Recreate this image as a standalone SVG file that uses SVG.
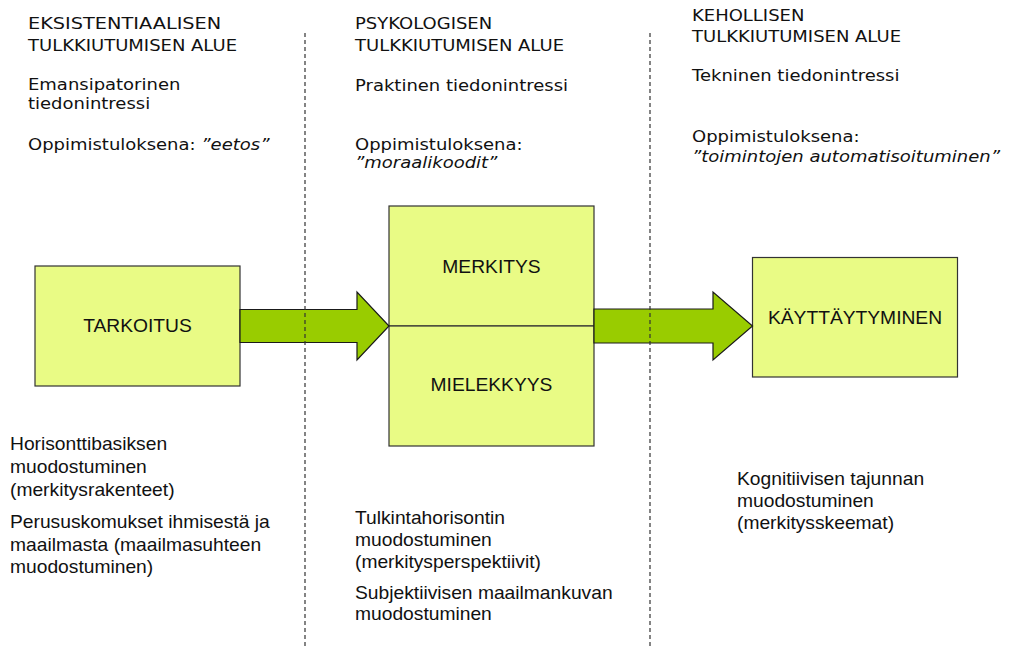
<svg xmlns="http://www.w3.org/2000/svg" width="1011" height="646" viewBox="0 0 1011 646">
  <style>
    .box { fill: #E9FB85; stroke: #333333; stroke-width: 1.2; }
    .arrow { fill: #99CC00; stroke: #1a1a1a; stroke-width: 1.2; stroke-linejoin: miter; }
    .divider { stroke: #333333; stroke-width: 1.2; stroke-dasharray: 4 3; fill: none; }
    .head { font-family: "DejaVu Sans", Verdana, sans-serif; font-size: 15px; fill: #111111; }
    .note { font-family: "Liberation Sans", Arial, sans-serif; font-size: 17.5px; fill: #111111; }
    .label { font-family: "Liberation Sans", Arial, sans-serif; font-size: 17.5px; fill: #111111; text-anchor: middle; }
    .it { font-style: italic; }
  </style>

  <!-- column headings -->
  <g id="col-eksistentiaalinen" transform="translate(28,0) scale(1.2,1)">
    <text class="head" x="0" y="29.5" textLength="161" lengthAdjust="spacingAndGlyphs">EKSISTENTIAALISEN</text>
    <text class="head" x="0" y="51">TULKKIUTUMISEN ALUE</text>
    <text class="head" x="0" y="90.5">Emansipatorinen</text>
    <text class="head" x="0" y="109.5">tiedonintressi</text>
    <text class="head" x="0" y="150.5">Oppimistuloksena: <tspan class="it">”eetos”</tspan></text>
  </g>
  <g id="col-psykologinen" transform="translate(355,0) scale(1.2,1)">
    <text class="head" x="0" y="29.5">PSYKOLOGISEN</text>
    <text class="head" x="0" y="51">TULKKIUTUMISEN ALUE</text>
    <text class="head" x="0" y="91.5">Praktinen tiedonintressi</text>
    <text class="head" x="0" y="150.5">Oppimistuloksena:</text>
    <text class="head it" x="0" y="168.5">”moraalikoodit”</text>
  </g>
  <g id="col-kehollinen" transform="translate(692,0) scale(1.2,1)">
    <text class="head" x="0" y="21.5">KEHOLLISEN</text>
    <text class="head" x="0" y="42.5">TULKKIUTUMISEN ALUE</text>
    <text class="head" x="0" y="81.5">Tekninen tiedonintressi</text>
    <text class="head" x="0" y="142.5">Oppimistuloksena:</text>
    <text class="head it" x="0" y="162.5">”toimintojen automatisoituminen”</text>
  </g>

  <!-- nodes -->
  <g id="node-tarkoitus">
    <rect class="box" x="35" y="266" width="205" height="120"/>
    <g transform="translate(137.5,0) scale(1.1,1)">
      <text class="label" x="0" y="332.5">TARKOITUS</text>
    </g>
  </g>
  <g id="node-merkitys">
    <rect class="box" x="389" y="206" width="205" height="120"/>
    <g transform="translate(491.5,0) scale(1.1,1)">
      <text class="label" x="0" y="273">MERKITYS</text>
    </g>
  </g>
  <g id="node-mielekkyys">
    <rect class="box" x="389" y="326" width="205" height="120"/>
    <g transform="translate(491.5,0) scale(1.1,1)">
      <text class="label" x="0" y="391">MIELEKKYYS</text>
    </g>
  </g>
  <g id="node-kayttaytyminen">
    <rect class="box" x="752.5" y="257.5" width="205" height="119.5"/>
    <g transform="translate(855,0) scale(1.1,1)">
      <text class="label" x="0" y="324">KÄYTTÄYTYMINEN</text>
    </g>
  </g>

  <!-- connectors -->
  <g id="connectors">
    <polygon class="arrow" points="240,309.5 357,309.5 357,292 389,326 357,360 357,342.5 240,342.5"/>
    <polygon class="arrow" points="594,309 713,309 713,292 752.5,326 713,360 713,343 594,343"/>
  </g>

  <!-- zone dividers -->
  <g id="dividers">
    <line class="divider" x1="305" y1="33" x2="305" y2="646"/>
    <line class="divider" x1="650" y1="33" x2="650" y2="646"/>
  </g>

  <!-- notes below the nodes -->
  <g id="notes-eksistentiaalinen" transform="translate(10,0) scale(1.1,1)">
    <text class="note" x="0" y="450">Horisonttibasiksen</text>
    <text class="note" x="0" y="473">muodostuminen</text>
    <text class="note" x="0" y="496">(merkitysrakenteet)</text>
    <text class="note" x="0" y="528">Perususkomukset ihmisestä ja</text>
    <text class="note" x="0" y="551">maailmasta (maailmasuhteen</text>
    <text class="note" x="0" y="573">muodostuminen)</text>
  </g>
  <g id="notes-psykologinen" transform="translate(355,0) scale(1.1,1)">
    <text class="note" x="0" y="524">Tulkintahorisontin</text>
    <text class="note" x="0" y="546">muodostuminen</text>
    <text class="note" x="0" y="568">(merkitysperspektiivit)</text>
    <text class="note" x="0" y="599">Subjektiivisen maailmankuvan</text>
    <text class="note" x="0" y="620">muodostuminen</text>
  </g>
  <g id="notes-kehollinen" transform="translate(737,0) scale(1.1,1)">
    <text class="note" x="0" y="485">Kognitiivisen tajunnan</text>
    <text class="note" x="0" y="507">muodostuminen</text>
    <text class="note" x="0" y="529">(merkitysskeemat)</text>
  </g>
</svg>
